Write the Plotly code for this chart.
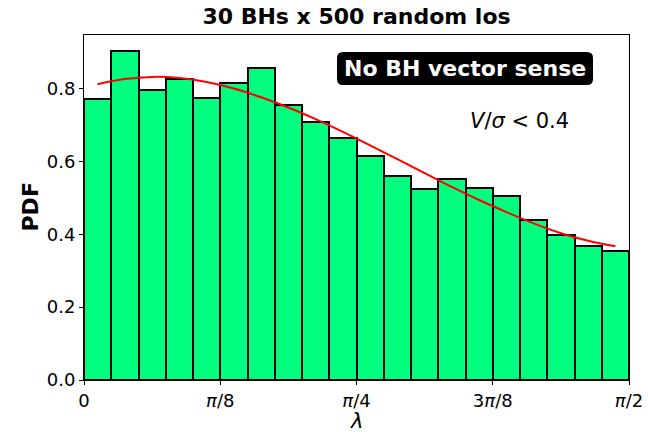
import numpy as np
import plotly.graph_objects as go

n_bins = 20
x_min, x_max = 0.0, np.pi / 2
pdf_values = [0.771, 0.904, 0.796, 0.826, 0.774, 0.815, 0.856, 0.755, 0.708, 0.664,
              0.614, 0.559, 0.524, 0.551, 0.526, 0.504, 0.438, 0.397, 0.369, 0.353]
fit_values = [0.812, 0.826, 0.832, 0.829, 0.818, 0.800, 0.776, 0.748, 0.716, 0.681,
              0.644, 0.606, 0.568, 0.530, 0.494, 0.461, 0.430, 0.403, 0.382, 0.367]
tick_vals = [0, np.pi / 8, np.pi / 4, 3 * np.pi / 8, np.pi / 2]
tick_text = ["0", "<i>π</i>/8", "<i>π</i>/4", "3<i>π</i>/8", "<i>π</i>/2"]
y_ticks = [0.0, 0.2, 0.4, 0.6, 0.8]
y_tick_text = ["0.0", "0.2", "0.4", "0.6", "0.8"]

edges = np.linspace(x_min, x_max, n_bins + 1)
centers = 0.5 * (edges[:-1] + edges[1:])
width = edges[1] - edges[0]

W, H = 648, 432
L, R, T, B = 84, 19, 35, 52
pw, ph = W - L - R, H - T - B


def px(xp):
    return (xp - L) / pw


def py(yp):
    return (H - B - yp) / ph


font = "DejaVu Sans"
fig = go.Figure()
fig.add_trace(go.Bar(x=centers, y=pdf_values, width=width,
                     marker=dict(color="#00FF7F", line=dict(color="black", width=2)),
                     showlegend=False))
fig.add_trace(go.Scatter(x=centers, y=fit_values, mode="lines",
                         line=dict(color="red", width=2, shape="spline"),
                         showlegend=False))

fig.update_layout(
    width=W, height=H,
    margin=dict(l=L, r=R, t=T, b=B),
    paper_bgcolor="white", plot_bgcolor="white",
    font=dict(family=font, color="black", size=18),
    bargap=0,
    title=dict(text="<b>30 BHs x 500 random los</b>", xref="paper", x=0.5, xanchor="center",
               yref="container", y=1 - 16 / H, yanchor="middle", font=dict(size=22, family=font)),
    xaxis=dict(range=[x_min, x_max], tickvals=tick_vals, ticktext=tick_text,
               ticks="outside", ticklen=4, tickcolor="black",
               showline=True, linecolor="black", linewidth=1, mirror=True,
               showgrid=False, zeroline=False, automargin=False,
               title=dict(text="", font=dict(size=20))),
    yaxis=dict(range=[0, 0.947], tickvals=y_ticks, ticktext=y_tick_text,
               ticks="outside", ticklen=4, tickcolor="black",
               showline=True, linecolor="black", linewidth=1, mirror=True,
               showgrid=False, zeroline=False, automargin=False,
               title=dict(text="", font=dict(size=20))),
)

# axis labels
fig.add_annotation(text="<i>λ</i>", xref="paper", yref="paper", x=0.5, y=py(421),
                   xanchor="center", yanchor="middle", showarrow=False,
                   font=dict(size=21, family=font))
fig.add_annotation(text="<b>PDF</b>", xref="paper", yref="paper", x=px(30), y=0.5,
                   xanchor="center", yanchor="middle", showarrow=False, textangle=-90,
                   font=dict(size=22, family=font))

# rounded black box behind label
x0, x1, y0, y1 = px(337), px(593), py(85), py(52)
rx, ry = 6 / pw, 6 / ph
path = (f"M {x0+rx},{y0} L {x1-rx},{y0} Q {x1},{y0} {x1},{y0+ry} L {x1},{y1-ry} "
        f"Q {x1},{y1} {x1-rx},{y1} L {x0+rx},{y1} Q {x0},{y1} {x0},{y1-ry} "
        f"L {x0},{y0+ry} Q {x0},{y0} {x0+rx},{y0} Z")
fig.add_shape(type="path", path=path, xref="paper", yref="paper",
              fillcolor="black", line=dict(width=0), layer="above")

fig.add_annotation(text="<b>No BH vector sense</b>", xref="paper", yref="paper",
                   x=px(465), y=py(68), xanchor="center", yanchor="middle",
                   showarrow=False, font=dict(size=22, color="white", family=font))
fig.add_annotation(text="<i>V</i>/<i>σ</i> &lt; 0.4", xref="paper", yref="paper",
                   x=px(519), y=py(121), xanchor="center", yanchor="middle",
                   showarrow=False, font=dict(size=21, color="black", family=font))

fig.write_html("out.html", config={"displayModeBar": False},
               post_script="document.body.style.margin='0px';")
